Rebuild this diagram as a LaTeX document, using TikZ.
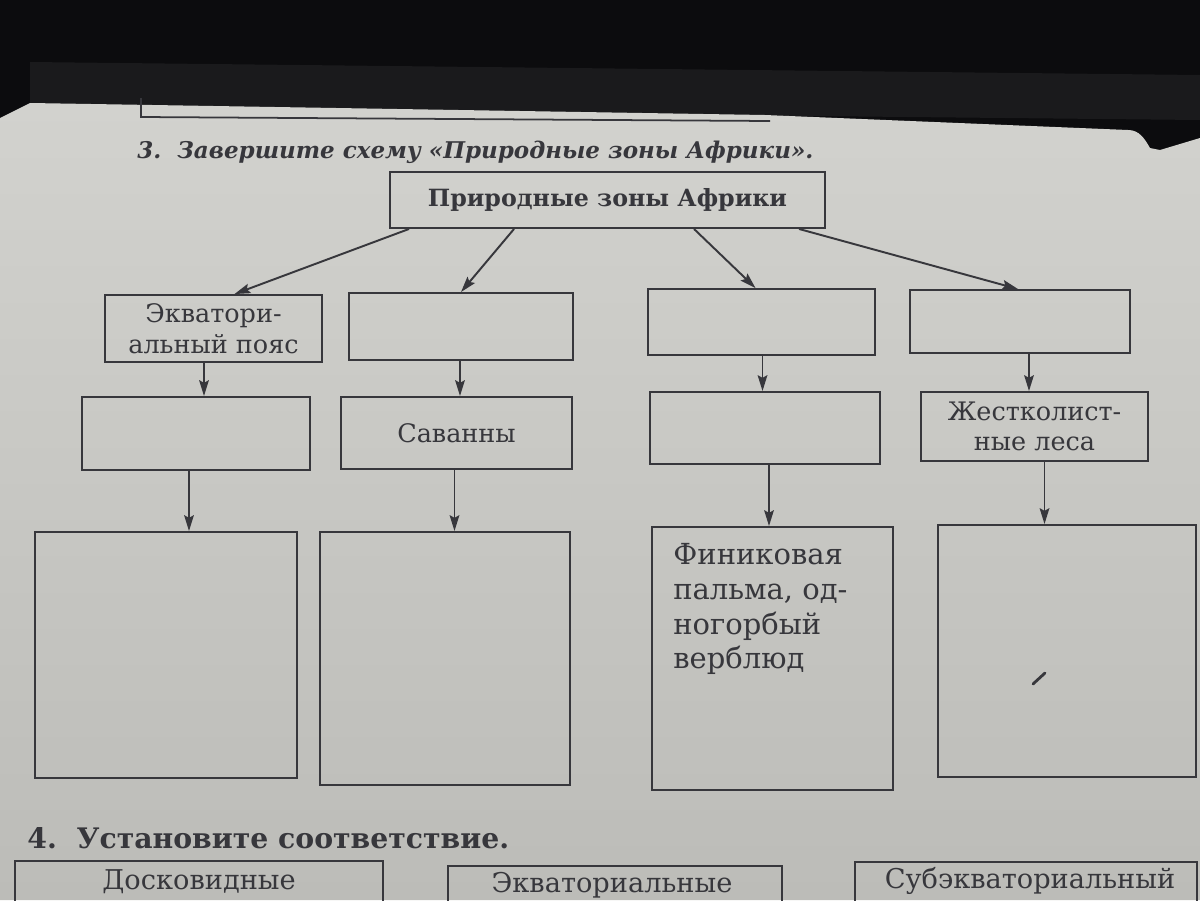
\documentclass[tikz,border=0pt]{standalone}
\usepackage{fontspec}
\setmainfont{DejaVu Serif}
\usetikzlibrary{arrows.meta,calc}
\definecolor{paperT}{RGB}{210,210,206}
\definecolor{paperB}{RGB}{188,188,184}
\definecolor{ink}{RGB}{55,55,60}
\definecolor{bgdark}{RGB}{12,12,14}
\definecolor{bgmid}{RGB}{26,26,28}
\tikzset{
  box/.style={draw=ink, line width=1.1pt, inner sep=0pt, align=center, text=ink,
    font=\fontsize{14.5}{17.5}\selectfont},
  bx/.style 2 args={minimum width=#1*0.02cm, minimum height=#2*0.02cm},
  arr/.style={draw=ink, line width=1.1pt, -{Stealth[length=9pt,width=5.5pt,inset=1.5pt]}},
  plain/.style={inner sep=0pt, text=ink},
}
\begin{document}
\begin{tikzpicture}[x=0.02cm,y=-0.02cm]
\useasboundingbox (0,0) rectangle (1200,900);
\clip (0,0) rectangle (1200,900);
% background
\fill[bgdark] (0,0) rectangle (1200,900);
\fill[bgmid] (30,62) -- (1200,75) -- (1200,120) -- (30,108) -- cycle;
\shade[top color=paperT, bottom color=paperB]
  (0,118) -- (30,103) -- (765,115) -- (1128,130) to[out=0,in=120] (1150,148)
  -- (1160,150) -- (1200,138) -- (1200,900) -- (0,900) -- cycle;
% edge of the box of the previous exercise
\draw[ink, line width=1pt] (141,98) -- (141,117) -- (770,121);

% title
\node[plain, anchor=base west, font=\bfseries\itshape\fontsize{13.1}{15}\selectfont]
  (title) at (137,158) {3.\ \ Завершите схему «Природные зоны Африки».};

% top node
\node[box, bx={435}{56}, font=\bfseries\fontsize{13.5}{15}\selectfont]
  (top) at (607.5,200) {Природные зоны Африки};

% row 1
\node[box, bx={217}{67}] (r1c1) at (213.5,328.5) {Экватори-\\альный пояс};
\node[box, bx={224}{67}] (r1c2) at (461,326.5) {};
\node[box, bx={227}{66}] (r1c3) at (761.5,322) {};
\node[box, bx={220}{63}] (r1c4) at (1020,321.5) {};
% row 2
\node[box, bx={228}{73}] (r2c1) at (196,433.5) {};
\node[box, bx={231}{72}] (r2c2) at (456.5,433) {Саванны};
\node[box, bx={230}{72}] (r2c3) at (765,428) {};
\node[box, bx={227}{69}] (r2c4) at (1034.5,426.5) {Жестколист-\\ные леса};
% row 3
\node[box, bx={262}{246}] (r3c1) at (166,655) {};
\node[box, bx={250}{253}] (r3c2) at (445,658.5) {};
\node[box, bx={241}{263}] (r3c3) at (772.5,658.5) {};
\node[box, bx={258}{252}] (r3c4) at (1067,651) {};
\node[plain, anchor=north west, align=left, font=\fontsize{16.5}{19.8}\selectfont]
  (r3c3t) at (673,543) {Финиковая\\пальма, од-\\ногорбый\\верблюд};
\draw[ink, line width=1.6pt, line cap=round] (1033,684) -- (1045,673);

% arrows from the top node
\draw[arr] ($(top.south west)+(20,0)$) -- ($(r1c1.north)+(21,0)$);
\draw[arr] ($(top.south west)+(125,0)$) -- (r1c2.north);
\draw[arr] ($(top.south west)+(305,0)$) -- ($(r1c3.north)+(-6,0)$);
\draw[arr] ($(top.south west)+(410,0)$) -- ($(r1c4.north)+(-2,0)$);

% row 1 -> row 2
\coordinate (v1) at ($(r1c1.south)+(-9.5,0)$);
\coordinate (v2) at ($(r1c2.south)+(-1,0)$);
\coordinate (v3) at ($(r1c3.south)+(1,0)$);
\coordinate (v4) at ($(r1c4.south)+(9,0)$);
\draw[arr] (v1) -- (v1 |- r2c1.north);
\draw[arr] (v2) -- (v2 |- r2c2.north);
\draw[arr] (v3) -- (v3 |- r2c3.north);
\draw[arr] (v4) -- (v4 |- r2c4.north);

% row 2 -> row 3
\coordinate (w1) at ($(r2c1.south)+(-7,0)$);
\coordinate (w2) at ($(r2c2.south)+(-2,0)$);
\coordinate (w3) at ($(r2c3.south)+(4,0)$);
\coordinate (w4) at ($(r2c4.south)+(10,0)$);
\draw[arr] (w1) -- (w1 |- r3c1.north);
\draw[arr] (w2) -- (w2 |- r3c2.north);
\draw[arr] (w3) -- (w3 |- r3c3.north);
\draw[arr] (w4) -- (w4 |- r3c4.north);

% exercise 4
\node[plain, anchor=base west, font=\bfseries\fontsize{16.1}{18}\selectfont]
  (h4) at (27,848) {4.\ \ Установите соответствие.};
\node[box, bx={368}{80}, anchor=north] (m1) at (199,860) {};
\node[box, bx={334}{80}, anchor=north] (m2) at (615,865) {};
\node[box, bx={342}{80}, anchor=north] (m3) at (1026,861) {};
\node[plain, anchor=base, font=\fontsize{15.5}{18}\selectfont] (m1t) at (199,889) {Досковидные};
\node[plain, anchor=base, font=\fontsize{15.5}{18}\selectfont] (m2t) at (612,892) {Экваториальные};
\node[plain, anchor=base, font=\fontsize{15.5}{18}\selectfont] (m3t) at (1030,888) {Субэкваториальный};
\end{tikzpicture}
\end{document}
